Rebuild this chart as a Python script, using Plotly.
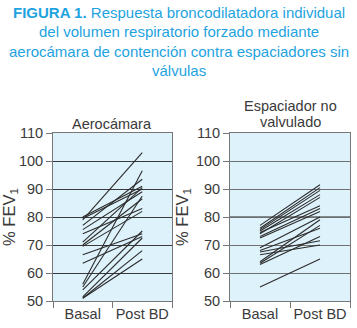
import plotly.graph_objects as go
from plotly.subplots import make_subplots

categories = ["Basal", "Post BD"]

aero_basal = [79, 80, 79.5, 77, 75.5, 74, 71, 70, 69.5, 66.5, 63.5, 56, 55, 54, 51.5, 51, 51]
aero_post = [103, 91, 90, 93.5, 89, 83, 90.5, 86.5, 82, 74, 73, 96.5, 87.5, 75, 72.5, 68, 65]

esp_basal = [55, 77, 76, 75.5, 75, 74.5, 74, 73, 72.5, 69, 68, 67.5, 66.5, 64, 63.5, 63]
esp_post = [65, 91.5, 90.5, 89.5, 88, 84, 87, 83, 82, 80, 76, 71.5, 70, 79, 77, 73]

y_ticks = [50, 60, 70, 80, 90, 100, 110]

W, H = 357, 328
ml, mr, mt, mb = 53, 7, 133, 27
pw = W - ml - mr
ph = H - mt - mb

fig = make_subplots(rows=1, cols=2)

line_color = "#2b2b2b"
for b, p in zip(aero_basal, aero_post):
    fig.add_trace(go.Scatter(x=categories, y=[b, p], mode="lines",
                             line=dict(color=line_color, width=1.1),
                             showlegend=False, hoverinfo="skip"), row=1, col=1)
for b, p in zip(esp_basal, esp_post):
    fig.add_trace(go.Scatter(x=categories, y=[b, p], mode="lines",
                             line=dict(color=line_color, width=1.1),
                             showlegend=False, hoverinfo="skip"), row=1, col=2)

d1 = [0, (172 - ml) / pw]
d2 = [(230 - ml) / pw, 1]

axfont = dict(family="Liberation Sans, Arial, sans-serif", size=14.5, color="#3a3a3a")

xcommon = dict(type="category", range=[-0.5, 1.5], tickson="boundaries", ticks="outside",
               ticklen=6, tickcolor="#777", showline=True, linecolor="#777", linewidth=1,
               mirror=True, showgrid=False, tickfont=axfont, fixedrange=True,
               tickangle=0, automargin=False)
ycommon = dict(range=[50, 110], tickvals=y_ticks, ticks="outside", ticklen=6, tickcolor="#777",
               showline=True, linecolor="#777", linewidth=1, mirror=True,
               tickfont=axfont, zeroline=False, fixedrange=True, automargin=False,
               title=dict(text="% FEV<sub>1</sub>", font=dict(family="Liberation Sans, Arial, sans-serif", size=16.5, color="#3a3a3a"), standoff=3))

fig.update_layout(
    xaxis=dict(domain=d1, **xcommon),
    xaxis2=dict(domain=d2, **xcommon),
    yaxis=dict(gridcolor="#3a3a3a", gridwidth=1, **ycommon),
    yaxis2=dict(gridcolor="#707070", gridwidth=1, **ycommon),
)

# darker 80 line in right panel
fig.add_shape(type="line", xref="x2 domain", yref="y2", x0=0, x1=1, y0=80, y1=80,
              line=dict(color="#222", width=1), layer="below")

bg = "#def2fb"
fig.update_layout(
    width=W, height=H,
    margin=dict(l=ml, r=mr, t=mt, b=mb, autoexpand=False),
    paper_bgcolor="white",
    plot_bgcolor=bg,
    showlegend=False,
)

blue = "#1ea3df"
tfont = dict(family="Liberation Sans, Arial, sans-serif", size=15, color=blue)
title_lines = [
    "<b>FIGURA 1.</b> Respuesta broncodilatadora individual",
    "del volumen respiratorio forzado mediante",
    "aerocámara de contención contra espaciadores sin",
    "válvulas",
]
for i, t in enumerate(title_lines):
    fig.add_annotation(text=t, xref="paper", yref="paper",
                       x=(178.5 - ml) / pw, xanchor="center",
                       y=1 + (mt - (13 + 19 * i)) / ph, yanchor="middle",
                       showarrow=False, font=tfont)

sfont = dict(family="Liberation Sans, Arial, sans-serif", size=14.5, color="#3a3a3a")
fig.add_annotation(text="Aerocámara", xref="paper", yref="paper",
                   x=(112 - ml) / pw, xanchor="center",
                   y=1 + (mt - 124) / ph, yanchor="middle",
                   showarrow=False, font=sfont)
fig.add_annotation(text="Espaciador no", xref="paper", yref="paper",
                   x=(290 - ml) / pw, xanchor="center",
                   y=1 + (mt - 106) / ph, yanchor="middle",
                   showarrow=False, font=sfont)
fig.add_annotation(text="valvulado", xref="paper", yref="paper",
                   x=(290 - ml) / pw, xanchor="center",
                   y=1 + (mt - 122) / ph, yanchor="middle",
                   showarrow=False, font=sfont)

fig.write_html("out.html", config={"displayModeBar": False},
               post_script="document.body.style.margin='0';document.body.style.overflow='hidden';")
